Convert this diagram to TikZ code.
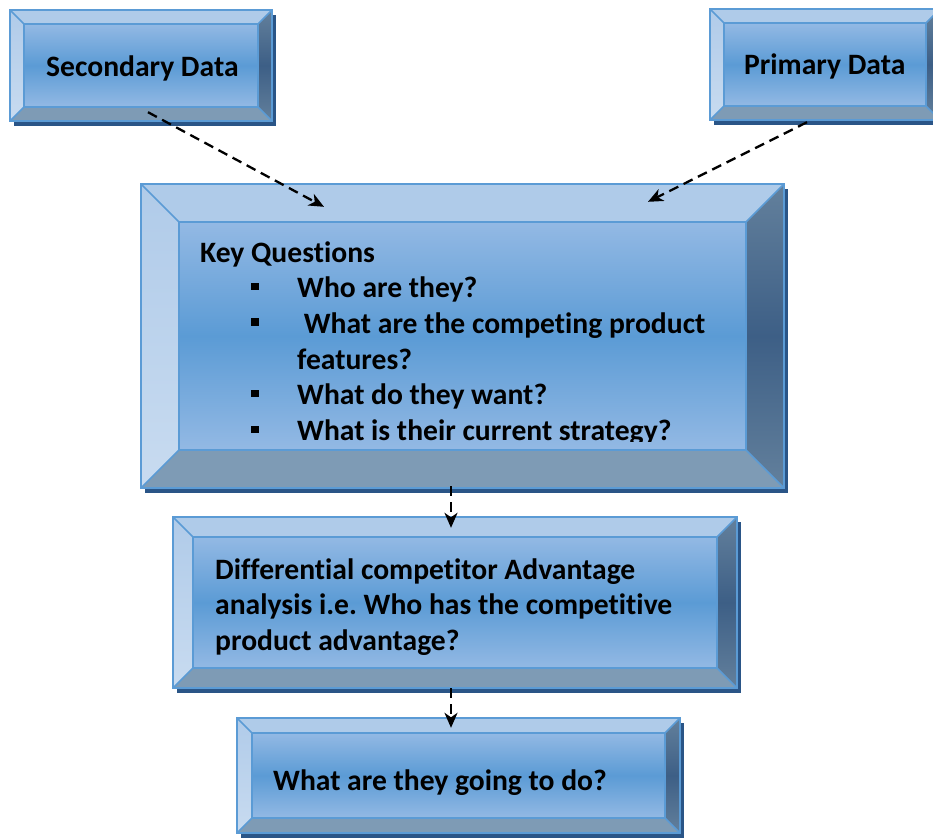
\documentclass[tikz,border=0pt]{standalone}
\usepackage{fontspec}
\setmainfont{Carlito}[Ligatures={NoCommon}]
\usetikzlibrary{arrows.meta}

\definecolor{boxedgeblue}{HTML}{5B9BD5}
\definecolor{shadowblue}{HTML}{2A5587}
\definecolor{bevtop}{HTML}{AFCBE9}
\definecolor{bevleftA}{HTML}{B0CBE9}
\definecolor{bevleftB}{HTML}{C8DBF0}
\definecolor{bevrightA}{HTML}{63809C}
\definecolor{bevrightB}{HTML}{3D5F86}
\definecolor{bevbottom}{HTML}{7E9BB5}
\definecolor{faceA}{HTML}{93B9E4}
\definecolor{faceB}{HTML}{5B9BD5}

\frenchspacing
\newcommand{\sqbullet}{\makebox[97pt][l]{\hspace*{51pt}\rule[7.5pt]{8pt}{7.5pt}}}

% bevelled box: name, left, top, right, bottom, bevel
\newcommand{\bevelbox}[6]{%
  \fill[shadowblue] (#2+4,#3+5) rectangle (#4+4,#5+5);
  \fill[bevtop] (#2,#3) -- (#4,#3) -- (#4-#6,#3+#6) -- (#2+#6,#3+#6) -- cycle;
  \shade[top color=bevleftA, bottom color=bevleftB] (#2,#3) -- (#2+#6,#3+#6) -- (#2+#6,#5-#6) -- (#2,#5) -- cycle;
  \shade[top color=bevrightA, bottom color=bevrightA, middle color=bevrightB] (#4,#3) -- (#4,#5) -- (#4-#6,#5-#6) -- (#4-#6,#3+#6) -- cycle;
  \fill[bevbottom] (#2,#5) -- (#2+#6,#5-#6) -- (#4-#6,#5-#6) -- (#4,#5) -- cycle;
  \shade[top color=faceA, bottom color=faceA, middle color=faceB] (#2+#6,#3+#6) rectangle (#4-#6,#5-#6);
  \draw[boxedge] (#2,#3) rectangle (#4,#5) (#2+#6,#3+#6) rectangle (#4-#6,#5-#6);
  \draw[boxedge] (#2,#3) -- (#2+#6,#3+#6) (#4,#3) -- (#4-#6,#3+#6)
    (#2,#5) -- (#2+#6,#5-#6) (#4,#5) -- (#4-#6,#5-#6);
  \node[inner sep=0, minimum width={(#4-#2)*1pt}, minimum height={(#5-#3)*1pt}] (#1) at ({(#2+#4)/2},{(#3+#5)/2}) {};
}

\begin{document}
\begin{tikzpicture}[x=1pt, y=-1pt,
    boxedge/.style={draw=boxedgeblue, line width=1.6pt, line join=miter},
    lbl/.style={font=\fontsize{29.6}{35.7}\selectfont\bfseries, inner sep=0, anchor=base west},
    dasharrow/.style={draw=black, line width=2.3pt, dash pattern=on 10pt off 6pt,
      -{Stealth[length=15pt, width=13pt, inset=4.5pt]}}]
\useasboundingbox (0,0) rectangle (933,838);

\bevelbox{secbox}{10}{10}{272}{121}{14}
\bevelbox{primbox}{710}{9}{940}{120}{14}
\bevelbox{keybox}{141}{184}{784}{488}{38}
\bevelbox{diffbox}{173}{517}{737}{688}{20}
\bevelbox{actbox}{237}{718}{680}{833}{15}

\node[lbl] (sec) at (46,76) {Secondary Data};
\node[lbl] (prim) at (744,74) {Primary Data};
\begin{scope}
  \clip (141,184) rectangle (784,441);
  \node[lbl] (keyq) at (200,262) {\parbox[t]{560pt}{\raggedright
    Key Questions\par
    \sqbullet Who are they?\par
    \sqbullet\ What are the competing product\par
    \hspace*{97pt}features?\par
    \sqbullet What do they want?\par
    \sqbullet What is their current strategy?}};
\end{scope}
\node[lbl] (diff) at (215,579) {\parbox[t]{500pt}{\raggedright
  Differential competitor Advantage\par
  analysis i.e. Who has the competitive\par
  product advantage?}};
\node[lbl] (act) at (273,790) {What are they going to do?};

\draw[dasharrow] ([xshift=7pt, yshift=9pt]secbox.south) -- ([xshift=-138.5pt, yshift=-23pt]keybox.north);
\draw[dasharrow] ([xshift=-18pt, yshift=-2pt]primbox.south) -- ([xshift=185.5pt, yshift=-18pt]keybox.north);
\draw[dasharrow] ([xshift=-11.5pt, yshift=2pt]keybox.south) -- ([xshift=-4pt, yshift=-11pt]diffbox.north);
\draw[dasharrow] ([xshift=-4pt]diffbox.south) -- ([xshift=-7.5pt, yshift=-10pt]actbox.north);
\end{tikzpicture}
\end{document}
